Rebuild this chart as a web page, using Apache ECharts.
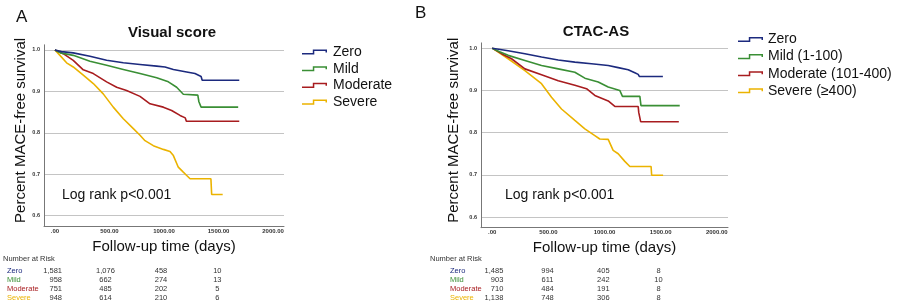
<!DOCTYPE html>
<html>
<head>
<meta charset="utf-8">
<script src="https://cdn.jsdelivr.net/npm/echarts@6/dist/echarts.min.js"></script>
<style>
  html, body { margin: 0; padding: 0; background: #fff; }
  #main { width: 900px; height: 303px; }
</style>
</head>
<body>
<div id="main"></div>
<script>
// ---- data ----
const xTickValues = [0, 500, 1000, 1500, 2000];
const xTickLabels = ['.00', '500.00', '1000.00', '1500.00', '2000.00'];
const yTickValues = [0.6, 0.7, 0.8, 0.9, 1.0];
const yTickLabels = ['0.6', '0.7', '0.8', '0.9', '1.0'];

const groupsVisual = ['Zero', 'Mild', 'Moderate', 'Severe'];
const groupsCtac = ['Zero', 'Mild (1-100)', 'Moderate (101-400)', 'Severe (≥400)'];
const riskLabels = ['Zero', 'Mild', 'Moderate', 'Severe'];

// Kaplan-Meier curves, [days, survival]
const visualZero = [[0,1],[60,0.996],[168,0.993],[321,0.985],[474,0.975],[627,0.969],[780,0.965],[933,0.961],[1009,0.959],[1086,0.953],[1208,0.947],[1284,0.943],[1340,0.936],[1350,0.927],[1690,0.927]];
const visualMild = [[0,1],[50,0.993],[168,0.987],[321,0.973],[474,0.963],[627,0.953],[780,0.943],[933,0.933],[1040,0.923],[1116,0.91],[1177,0.893],[1310,0.891],[1320,0.875],[1340,0.862],[1680,0.862]];
const visualModerate = [[0,1],[76,0.991],[168,0.975],[260,0.952],[352,0.943],[474,0.923],[566,0.91],[657,0.902],[780,0.888],[872,0.87],[994,0.862],[1070,0.854],[1147,0.842],[1195,0.836],[1205,0.828],[1690,0.828]];
const visualSevere = [[0,1],[46,0.987],[107,0.969],[168,0.959],[260,0.939],[352,0.919],[443,0.894],[535,0.862],[627,0.834],[719,0.81],[780,0.794],[826,0.781],[902,0.769],[994,0.76],[1055,0.755],[1086,0.745],[1131,0.717],[1177,0.705],[1208,0.697],[1239,0.689],[1430,0.689],[1437,0.651],[1538,0.651]];

const ctacZero = [[0,1],[142,0.994],[291,0.987],[439,0.979],[588,0.972],[736,0.967],[884,0.963],[1033,0.959],[1122,0.954],[1211,0.949],[1270,0.942],[1300,0.938],[1310,0.933],[1520,0.933]];
const ctacMild = [[0,1],[60,0.992],[142,0.983],[291,0.971],[439,0.959],[588,0.951],[736,0.943],[825,0.929],[944,0.92],[1033,0.908],[1136,0.9],[1160,0.886],[1315,0.886],[1325,0.864],[1670,0.864]];
const ctacModerate = [[0,1],[83,0.987],[172,0.975],[291,0.951],[439,0.937],[588,0.923],[736,0.912],[840,0.904],[914,0.888],[1033,0.875],[1092,0.862],[1300,0.862],[1305,0.848],[1318,0.848],[1322,0.826],[1662,0.826]];
const ctacSevere = [[0,1],[53,0.991],[142,0.975],[291,0.947],[439,0.916],[528,0.884],[617,0.856],[736,0.829],[825,0.809],[914,0.793],[958,0.785],[1033,0.784],[1077,0.758],[1122,0.75],[1181,0.732],[1226,0.72],[1415,0.72],[1420,0.699],[1522,0.699]];

// number at risk at 0 / 500 / 1000 / 1500 days
const riskVisual = [[1581, 1076, 458, 10], [958, 662, 274, 13], [751, 485, 202, 5], [948, 614, 210, 6]];
const riskCtac = [[1485, 994, 405, 8], [903, 611, 242, 10], [710, 484, 191, 8], [1138, 748, 306, 8]];

const colors = ['#1c2a7e', '#3a8f35', '#a81c1f', '#ebb300'];
const FONT = '"Liberation Sans", Arial, sans-serif';

let myChart = echarts.init(document.getElementById('main'));

function xAxisCfg(gridIndex) {
  return {
    type: 'value',
    gridIndex: gridIndex,
    min: -100,
    max: 2100,
    name: 'Follow-up time (days)',
    nameLocation: 'middle',
    nameGap: 13,
    nameTextStyle: { fontSize: 15, color: '#111', fontFamily: FONT },
    axisLine: { show: true, onZero: false, lineStyle: { color: '#777', width: 1 } },
    axisTick: { show: false },
    splitLine: { show: false },
    axisLabel: {
      customValues: xTickValues,
      fontSize: 6,
      fontWeight: 'bold',
      color: '#333',
      margin: 2,
      fontFamily: FONT,
      formatter: function (v) {
        return xTickLabels[xTickValues.indexOf(v)];
      },
    },
  };
}

function yAxisCfg(gridIndex, gap) {
  return {
    type: 'value',
    gridIndex: gridIndex,
    min: 0.575,
    max: 1.0125,
    name: 'Percent MACE-free survival',
    nameLocation: 'middle',
    nameGap: gap,
    nameTextStyle: { fontSize: 15, color: '#111', fontFamily: FONT, padding: [0, 0, 0, 10] },
    axisLine: { show: true, onZero: false, lineStyle: { color: '#777', width: 1 } },
    axisTick: { show: false, customValues: yTickValues },
    splitLine: { show: true, lineStyle: { color: '#c4c4c4', width: 1 } },
    axisLabel: {
      customValues: yTickValues,
      fontSize: 5.5,
      fontWeight: 'bold',
      color: '#333',
      margin: 4,
      fontFamily: FONT,
      formatter: function (v) {
        return yTickLabels[yTickValues.indexOf(v)];
      },
    },
  };
}

function curve(name, data, idx, color) {
  return {
    name: name,
    type: 'line',
    xAxisIndex: idx,
    yAxisIndex: idx,
    data: data,
    showSymbol: false,
    symbol: 'none',
    lineStyle: { color: color, width: 1.6 },
    itemStyle: { color: color },
    z: 10 - colors.indexOf(color),
  };
}

// step-shaped legend icon (low left, up, across, short drop at the end)
const stepIcon = 'path://M0,3.6 L10.8,3.6 L10.8,0 L25,0 L25,3 L23.5,3 L23.5,1.5 L12.3,1.5 L12.3,5.1 L0,5.1 Z';

function riskTable(x0, nameX, colX, rows) {
  const els = [];
  const rowY = [271, 280, 289, 297.7];
  els.push({
    type: 'text', left: x0, top: 255,
    style: { text: 'Number at Risk', fontSize: 7.5, fill: '#333', fontFamily: FONT },
  });
  rows.forEach(function (r, i) {
    els.push({
      type: 'text', x: nameX, y: rowY[i],
      style: { text: riskLabels[i], fontSize: 7.5, fill: colors[i], fontFamily: FONT, verticalAlign: 'middle' },
    });
    r.forEach(function (n, j) {
      els.push({
        type: 'text', x: colX[j], y: rowY[i],
        style: {
          text: n.toLocaleString('en-US'),
          fontSize: 7.5,
          fill: '#333',
          fontFamily: FONT,
          align: j === 0 ? 'right' : 'center',
          verticalAlign: 'middle',
        },
      });
    });
  });
  return els;
}

const option = {
  animation: false,
  backgroundColor: '#fff',
  textStyle: { fontFamily: FONT },
  title: [
    { text: 'A', left: 11, top: 4, textStyle: { fontSize: 17, fontWeight: 'normal', color: '#111', fontFamily: FONT } },
    { text: 'B', left: 410, top: 0, textStyle: { fontSize: 17, fontWeight: 'normal', color: '#111', fontFamily: FONT } },
    { text: 'Visual score', left: 167, top: 20, textAlign: 'center', textStyle: { fontSize: 15, fontWeight: 'bold', color: '#111', fontFamily: FONT } },
    { text: 'CTAC-AS', left: 591, top: 19, textAlign: 'center', textStyle: { fontSize: 15, fontWeight: 'bold', color: '#111', fontFamily: FONT } },
  ],
  legend: [
    {
      orient: 'vertical',
      left: 297,
      top: 40,
      itemWidth: 25,
      itemHeight: 5.2,
      itemGap: 2.7,
      icon: stepIcon,
      data: groupsVisual,
      textStyle: { fontSize: 14, color: '#111', fontFamily: FONT, padding: [0, 0, 0, 1] },
    },
    {
      orient: 'vertical',
      left: 733,
      top: 27.5,
      itemWidth: 25,
      itemHeight: 5.2,
      itemGap: 3.1,
      icon: stepIcon,
      data: groupsCtac,
      textStyle: { fontSize: 14, color: '#111', fontFamily: FONT, padding: [0, 0, 0, 0] },
    },
  ],
  grid: [
    { left: 44, right: 616, top: 44.8, height: 181.2, containLabel: false },
    { left: 481, right: 172, top: 42.9, height: 184.8, containLabel: false },
  ],
  xAxis: [xAxisCfg(0), xAxisCfg(1)],
  yAxis: [yAxisCfg(0, 16), yAxisCfg(1, 20)],
  series: [
    curve(groupsVisual[0], visualZero, 0, colors[0]),
    curve(groupsVisual[1], visualMild, 0, colors[1]),
    curve(groupsVisual[2], visualModerate, 0, colors[2]),
    curve(groupsVisual[3], visualSevere, 0, colors[3]),
    curve(groupsCtac[0], ctacZero, 1, colors[0]),
    curve(groupsCtac[1], ctacMild, 1, colors[1]),
    curve(groupsCtac[2], ctacModerate, 1, colors[2]),
    curve(groupsCtac[3], ctacSevere, 1, colors[3]),
  ],
  graphic: [
    { type: 'text', left: 62, top: 188, style: { text: 'Log rank p<0.001', fontSize: 14, fill: '#111', fontFamily: FONT } },
    { type: 'text', left: 505, top: 188, style: { text: 'Log rank p<0.001', fontSize: 14, fill: '#111', fontFamily: FONT } },
  ]
    .concat(riskTable(3, 7, [62, 105.5, 161, 217.3], riskVisual))
    .concat(riskTable(430, 450, [503.3, 547.5, 603.3, 658.5], riskCtac)),
};

myChart.setOption(option, true);

window.addEventListener('resize', () => {
  myChart.resize();
});
</script>
</body>
</html>
